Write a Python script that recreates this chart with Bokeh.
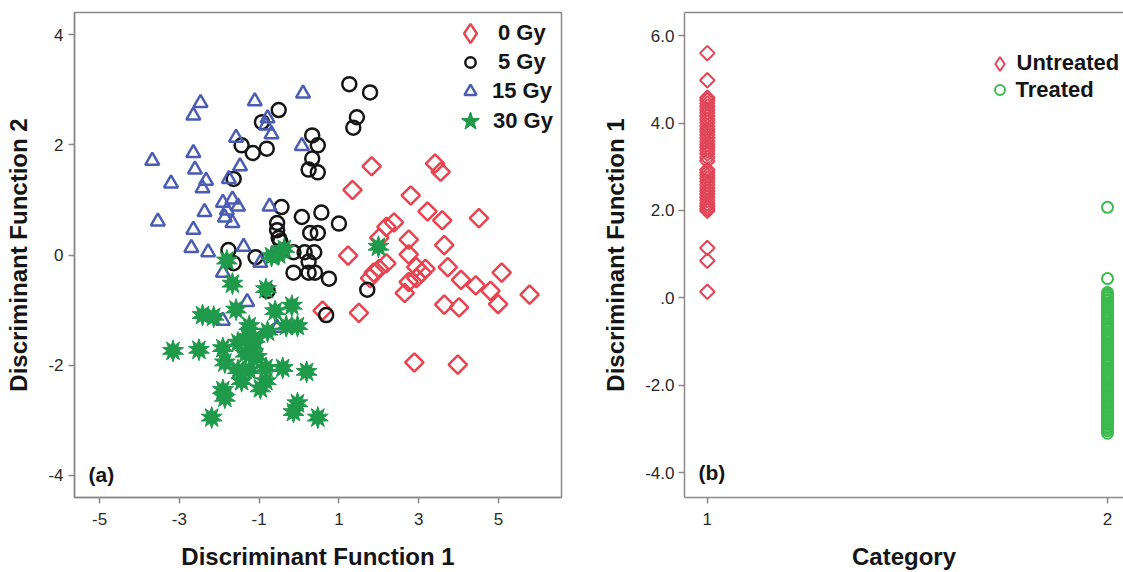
from bokeh.plotting import figure
from bokeh.layouts import row
from bokeh.models import FixedTicker, Legend, LegendItem, Label, LinearAxis
from bokeh.embed import file_html
from bokeh.resources import INLINE
import numpy as np

# ---------------- panel (a) data ----------------
gy0_x = [1.82, 1.34, 3.41, 3.55, 2.80, 3.22, 3.59, 4.51, 2.19, 2.38, 2.75, 2.01, 1.23, 3.64,
         2.75, 1.87, 2.01, 1.78, 2.19, 2.94, 3.08, 3.17, 2.94, 3.73, 4.06, 4.43, 5.08, 4.80,
         4.99, 5.78, 2.65, 3.64, 4.01, 1.50, 0.59, 2.89, 3.98, 2.75]
gy0_y = [1.61, 1.18, 1.66, 1.51, 1.08, 0.79, 0.63, 0.67, 0.51, 0.59, 0.28, 0.31, -0.01, 0.18,
         0.01, -0.32, -0.25, -0.42, -0.15, -0.22, -0.32, -0.25, -0.42, -0.22, -0.45, -0.55, -0.32, -0.65,
         -0.89, -0.72, -0.69, -0.90, -0.95, -1.05, -1.01, -1.95, -1.99, -0.49]

gy5_x = [1.26, 1.78, 1.45, 1.36, -0.51, 0.33, 0.47, 0.33, 0.24, 0.47, -1.44, -1.16, -0.81, -0.93,
         -1.64, -0.44, -0.55, -0.55, -0.51, 0.07, 0.56, 1.00, 0.28, 0.47, -1.77, -1.64, -1.09, -0.14,
         0.14, 0.38, -0.14, 0.24, 0.40, 0.24, 0.75, 1.71, 0.68, -0.79, -0.47]
gy5_y = [3.10, 2.95, 2.50, 2.31, 2.63, 2.17, 1.99, 1.75, 1.55, 1.50, 1.99, 1.85, 1.93, 2.41,
         1.38, 0.87, 0.58, 0.45, 0.31, 0.69, 0.77, 0.57, 0.40, 0.40, 0.09, -0.15, -0.04, 0.05,
         0.05, 0.05, -0.32, -0.32, -0.32, -0.12, -0.43, -0.63, -1.09, -0.65, 0.25]

gy15_x = [0.10, -1.11, -2.47, -2.65, -0.79, -0.83, -0.69, 0.07, -3.68, -2.65, -2.61, -3.21, -2.33,
          -2.42, -1.58, -1.48, -1.76, -3.54, -2.37, -1.91, -1.81, -1.67, -1.53, -1.67, -0.74, -2.65,
          -2.70, -2.28, -1.39, -0.97, -1.91, -1.30, -1.91, -0.55, -1.86]
gy15_y = [2.93, 2.79, 2.76, 2.53, 2.48, 2.35, 2.19, 1.98, 1.71, 1.85, 1.55, 1.30, 1.35,
          1.21, 2.13, 1.61, 1.38, 0.61, 0.78, 0.95, 0.81, 1.01, 0.88, 0.58, 0.88, 0.46,
          0.13, 0.05, 0.15, -0.14, -0.32, -0.85, -1.19, -1.32, 0.68]

gy30_x = [1.99, -1.81, -0.69, -0.51, -0.37, -1.67, -0.83, -1.58, -0.60, -0.18, -2.42, -2.14, -0.04,
          -0.32, -0.79, -3.16, -2.51, -1.91, -1.53, -1.30, -1.16, -1.34, -1.06, -1.86, -1.53, -0.83,
          -1.44, -0.41, 0.19, -0.83, -1.91, -1.86, -2.19, -0.04, -0.14, 0.47, -1.25, -1.11, -0.97, -1.25]
gy30_y = [0.15, -0.10, -0.02, 0.01, 0.11, -0.52, -0.62, -0.99, -1.02, -0.92, -1.09, -1.12, -1.29,
          -1.29, -1.39, -1.74, -1.72, -1.69, -1.59, -1.49, -1.65, -1.79, -1.85, -1.95, -2.09, -2.05,
          -2.29, -2.05, -2.12, -2.29, -2.45, -2.59, -2.95, -2.69, -2.85, -2.95, -2.09, -1.52, -2.42, -1.29]

a_xticks = [-5, -3, -1, 1, 3, 5]
a_yticks = [-4, -2, 0, 2, 4]
a_labels = ["0 Gy", "5 Gy", "15 Gy", "30 Gy"]

# ---------------- panel (b) data ----------------
categories = [1, 2]
cat_labels = ["1", "2"]
untreated_y = [5.60, 4.98, 4.58, 4.52, 4.45, 4.38, 4.31, 4.24, 4.16, 4.08, 4.01, 3.93, 3.86, 3.80,
               3.73, 3.66, 3.58, 3.51, 3.44, 3.37, 3.30, 3.21, 3.13, 2.93, 2.87, 2.80, 2.73, 2.66,
               2.59, 2.51, 2.44, 2.37, 2.30, 2.23, 2.16, 2.10, 2.04, 1.99, 1.14, 0.85, 0.14]
treated_y = [2.07, 0.44, 0.12, 0.08, 0.05, 0.01, -0.04, -0.07, -0.12, -0.15, -0.19, -0.24, -0.28,
             -0.33, -0.36, -0.41, -0.45, -0.48, -0.53, -0.58, -0.61, -0.66, -0.70, -0.73, -0.78,
             -0.82, -0.86, -0.91, -0.94, -0.98, -1.03, -1.07, -1.10, -1.15, -1.19, -1.23, -1.27,
             -1.31, -1.36, -1.40, -1.43, -1.48, -1.52, -1.55, -1.60, -1.64, -1.68, -1.72, -1.76,
             -1.80, -1.85, -1.88, -1.92, -1.97, -2.01, -2.05, -2.08, -2.13, -2.17, -2.21, -2.25,
             -2.29, -2.34, -2.37, -2.41, -2.46, -2.50, -2.53, -2.58, -2.62, -2.66, -2.70, -2.74,
             -2.78, -2.83, -2.87, -2.90, -2.95, -2.99, -3.04, -3.10]
b_yticks = [-4, -2, 0, 2, 4, 6]
b_ytick_labels = ["-4.0", "-2.0", ".0", "2.0", "4.0", "6.0"]
b_labels = ["Untreated", "Treated"]

FONT = "Liberation Sans"
GRAY = "#8a8a8a"
RED = "#e8434f"
BLACK = "#151515"
BLUE = "#4a5db3"
GREEN = "#1f9a4b"
RED_B = "#e04658"
GREEN_B = "#3cbc4c"


def style_axes(p):
    for ax in p.xaxis + p.yaxis:
        ax.axis_line_color = GRAY
        ax.axis_line_width = 1.5
        ax.major_tick_line_color = GRAY
        ax.major_tick_line_width = 1.5
        ax.major_tick_in = 0
        ax.major_tick_out = 6
        ax.minor_tick_line_color = None
        ax.major_label_text_font = FONT
        ax.major_label_text_font_size = "17px"
        ax.major_label_text_color = "#2a2a2a"
        ax.axis_label_text_font = FONT
        ax.axis_label_text_font_size = "24px"
        ax.axis_label_text_font_style = "bold"
        ax.axis_label_text_color = "#151515"


def add_key(p, label, renderers, box, cx, cy, label_x, frame_left, frame_bottom):
    """One-item legend whose glyph box (marker size = 0.4*box) is centred at screen (cx, cy)."""
    standoff = int(max(0, round(label_x - (cx + box / 2))))
    leg = Legend(items=[LegendItem(label=label, renderers=renderers)],
                 location=(float(cx - box / 2 - frame_left), float(frame_bottom - (cy + box / 2))),
                 glyph_width=int(box), glyph_height=int(box), label_standoff=standoff, spacing=0,
                 padding=0, margin=0, label_height=10,
                 label_text_font=FONT, label_text_font_size="22px",
                 label_text_font_style="bold", label_text_color="#151515",
                 background_fill_alpha=0, border_line_color=None)
    p.add_layout(leg)


# ---------------- panel (a) ----------------
p1 = figure(width=580, height=572, x_range=(-5.63, 6.58), y_range=(-4.40, 4.40),
            output_backend="svg", toolbar_location=None,
            min_border_left=74, min_border_right=19, min_border_top=11, min_border_bottom=75)
p1.grid.visible = False
p1.outline_line_color = GRAY
p1.outline_line_width = 1.5
p1.background_fill_color = "white"
p1.border_fill_color = "white"

r0 = p1.scatter(gy0_x, gy0_y, marker="square", angle=np.pi / 4, size=13,
                fill_color=None, line_color=RED, line_width=2.5)
r5 = p1.scatter(gy5_x, gy5_y, marker="circle", size=14,
                fill_color=None, line_color=BLACK, line_width=2.5)
r15 = p1.scatter(gy15_x, gy15_y, marker="triangle", size=14,
                 fill_color=None, line_color=BLUE, line_width=2.5)
r30a = p1.scatter(gy30_x, gy30_y, marker="star", size=22, angle=0,
                  fill_color=GREEN, line_color=GREEN, line_width=1)
r30b = p1.scatter(gy30_x, gy30_y, marker="star", size=22, angle=np.pi / 5,
                  fill_color=GREEN, line_color=GREEN, line_width=1)
# key-only glyph (legends draw markers unrotated); its single row is NaN so nothing is plotted
k0 = p1.scatter(x=[np.nan], y=[np.nan], marker="diamond", size=10,
                fill_color=None, line_color=RED, line_width=2.5)

p1.xaxis.axis_label = "Discriminant Function 1"
p1.yaxis.axis_label = "Discriminant Function 2"
p1.xaxis.ticker = FixedTicker(ticks=a_xticks)
p1.yaxis.ticker = FixedTicker(ticks=a_yticks)
p1.xaxis.major_label_overrides = {t: str(t) for t in a_xticks}
p1.yaxis.major_label_overrides = {t: str(t) for t in a_yticks}
style_axes(p1)
p1.xaxis.major_label_standoff = 9
p1.xaxis.axis_label_standoff = 15
p1.yaxis.major_label_standoff = 5
p1.yaxis.axis_label_standoff = 13

F1L, F1B = 74, 497
add_key(p1, a_labels[0], [k0], 48, 470, 33, 498, F1L, F1B)
add_key(p1, a_labels[1], [r5], 26, 470, 62, 498, F1L, F1B)
add_key(p1, a_labels[2], [r15], 30, 470, 91, 492, F1L, F1B)
add_key(p1, a_labels[3], [r30a, r30b], 46, 470, 121, 492, F1L, F1B)

p1.add_layout(Label(x=-5.28, y=-3.98, text="(a)", text_font=FONT, text_font_size="21px",
                    text_font_style="bold", text_baseline="middle", text_color="#151515"))

# ---------------- panel (b) ----------------
p2 = figure(width=543, height=572, x_range=(0.943, 2.04), y_range=(-4.57, 6.53),
            output_backend="svg", toolbar_location=None,
            min_border_left=104, min_border_right=0, min_border_top=12, min_border_bottom=74)
p2.grid.visible = False
p2.outline_line_color = None
p2.background_fill_color = "white"
p2.border_fill_color = "white"

ru = p2.scatter([categories[0]] * len(untreated_y), untreated_y, marker="square", angle=np.pi / 4,
                size=10.3, fill_color=None, line_color=RED_B, line_width=2)
rt = p2.scatter([categories[1]] * len(treated_y), treated_y, marker="circle",
                size=11, fill_color=None, line_color=GREEN_B, line_width=2)
ku = p2.scatter(x=[np.nan], y=[np.nan], marker="diamond", size=10,
                fill_color=None, line_color=RED_B, line_width=2)

p2.xaxis.axis_label = "Category"
p2.yaxis.axis_label = "Discriminant Function 1"
p2.xaxis.ticker = FixedTicker(ticks=categories)
p2.yaxis.ticker = FixedTicker(ticks=b_yticks)
p2.xaxis.major_label_overrides = dict(zip(categories, cat_labels))
p2.yaxis.major_label_overrides = dict(zip(b_yticks, b_ytick_labels))
style_axes(p2)
p2.xaxis.major_label_standoff = 9
p2.xaxis.axis_label_standoff = 15
p2.yaxis.major_label_standoff = 4
p2.yaxis.axis_label_standoff = 13

top_ax = LinearAxis(ticker=FixedTicker(ticks=[]), axis_line_color=GRAY, axis_line_width=1.5,
                    major_tick_line_color=None, minor_tick_line_color=None)
p2.add_layout(top_ax, "above")

F2L, F2B = 104, 498
add_key(p2, b_labels[0], [ku], 35, 999 - 580, 64, 1015 - 580, F2L, F2B)
add_key(p2, b_labels[1], [rt], 25, 999 - 580, 91, 1015 - 580, F2L, F2B)

p2.add_layout(Label(x=0.978, y=-4.0, text="(b)", text_font=FONT, text_font_size="21px",
                    text_font_style="bold", text_baseline="middle", text_color="#151515"))

layout = row(p1, p2, spacing=0)
open("out.html", "w").write(file_html(layout, INLINE))
